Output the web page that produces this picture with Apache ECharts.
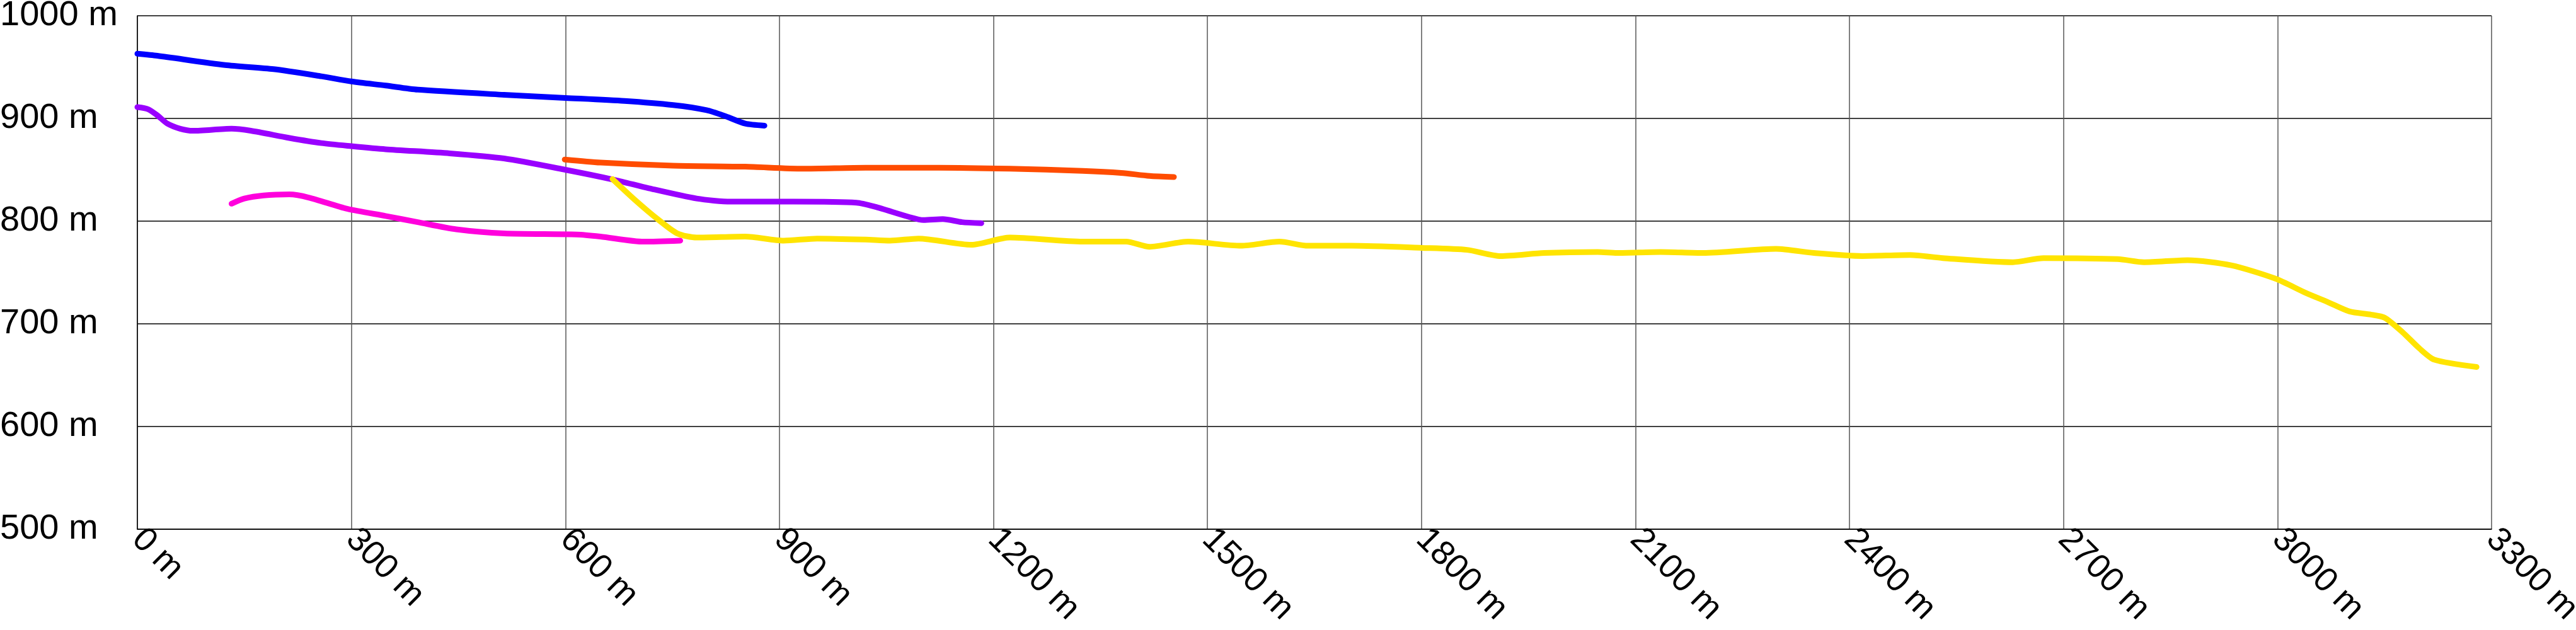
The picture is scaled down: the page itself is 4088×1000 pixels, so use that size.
<!DOCTYPE html>
<html>
<head>
<meta charset="utf-8">
<script src="https://cdn.jsdelivr.net/npm/echarts@6/dist/echarts.min.js"></script>
<style>html,body{margin:0;padding:0;background:#fff;}#c{width:4088px;height:1000px;}</style>
</head>
<body>
<div id="c"></div>
<script>
const blueDist = [0,28,123,191,258,300,348,393,514,600,683,751,798,825,852,879];
const blueElev = [963,961,952,948,941,936,932,928,923,920,917,913,908,902,895,893];

const purpleDist = [0,15,28,42,60,78,132,159,213,258,300,348,438,514,600,670,717,784,832,920,1008,1034,1082,1102,1129,1156,1183];
const purpleElev = [911,909,903,895,890,888,890,888,881,876,873,870,866,861,850,840,832,822,819,819,818,814,804,801,802,799,798];

const magentaDist = [132,150,177,213,240,294,348,393,447,514,616,649,710,761];
const magentaElev = [817,822,825,826,823,812,805,799,792,788,787,785,780,781];

const orangeDist = [599,649,751,852,933,1021,1123,1223,1325,1379,1419,1453];
const orangeElev = [860,857,854,853,851,852,852,851,849,847,844,843];

const yellowDist = [666,697,731,757,784,852,906,953,1021,1055,1095,1169,1223,1325,1386,1419,1473,1547,1601,1641,1702,1800,1864,1911,1972,2047,2074,2135,2195,2297,2350,2418,2485,2531,2629,2672,2776,2813,2874,2935,2997,3040,3071,3101,3131,3150,3175,3199,3220,3279];
const yellowElev = [841,821,801,788,784,785,781,783,782,781,783,777,784,780,780,775,780,776,780,776,776,774,772,766,769,770,769,770,769,773,769,766,767,764,760,764,763,760,762,757,744,730,721,712,709,706,692,676,665,658];

const xTicks = {min: 0, max: 3300, interval: 300};
const yTicks = {min: 500, max: 1000, interval: 100};

function pairs(d, e) { return d.map((x, i) => [x, e[i]]); }
function line(name, d, e, color, z) {
  return {
    name: name, type: 'line', data: pairs(d, e), showSymbol: false, symbol: 'none',
    smooth: 0.25, z: z,
    lineStyle: {color: color, width: 9, cap: 'round', join: 'round'}
  };
}

const chart = echarts.init(document.getElementById('c'), null, {renderer: 'canvas'});
chart.setOption({
  animation: false,
  backgroundColor: '#ffffff',
  grid: {left: 218, right: 134, top: 25, bottom: 160, containLabel: false, outerBoundsMode: 'none'},
  xAxis: {
    type: 'value', min: xTicks.min, max: xTicks.max, interval: xTicks.interval,
    axisLine: {show: true, lineStyle: {color: '#000', width: 1.5}},
    axisTick: {show: false},
    splitLine: {show: true, lineStyle: {color: '#555', width: 1.5}},
    axisLabel: {
      rotate: -45, margin: 8, color: '#000', fontSize: 54,
      fontFamily: 'Liberation Sans', overflow: 'none',
      formatter: v => v + ' m'
    }
  },
  yAxis: {
    type: 'value', min: yTicks.min, max: yTicks.max, interval: yTicks.interval,
    axisLine: {show: true, lineStyle: {color: '#000', width: 1.5}},
    axisTick: {show: false},
    splitLine: {show: true, lineStyle: {color: '#000', width: 1.5}},
    axisLabel: {
      margin: 218, align: 'left', color: '#000', fontSize: 56,
      fontFamily: 'Liberation Sans', overflow: 'none',
      padding: [0, 0, 6, 0],
      formatter: v => v + ' m'
    }
  },
  series: [
    line('purple', purpleDist, purpleElev, '#9900ff', 2),
    line('yellow', yellowDist, yellowElev, '#ffe400', 3),
    line('magenta', magentaDist, magentaElev, '#ff00dd', 4),
    line('orange', orangeDist, orangeElev, '#ff4c00', 5),
    line('blue', blueDist, blueElev, '#0000ff', 6)
  ]
});
</script>
</body>
</html>
